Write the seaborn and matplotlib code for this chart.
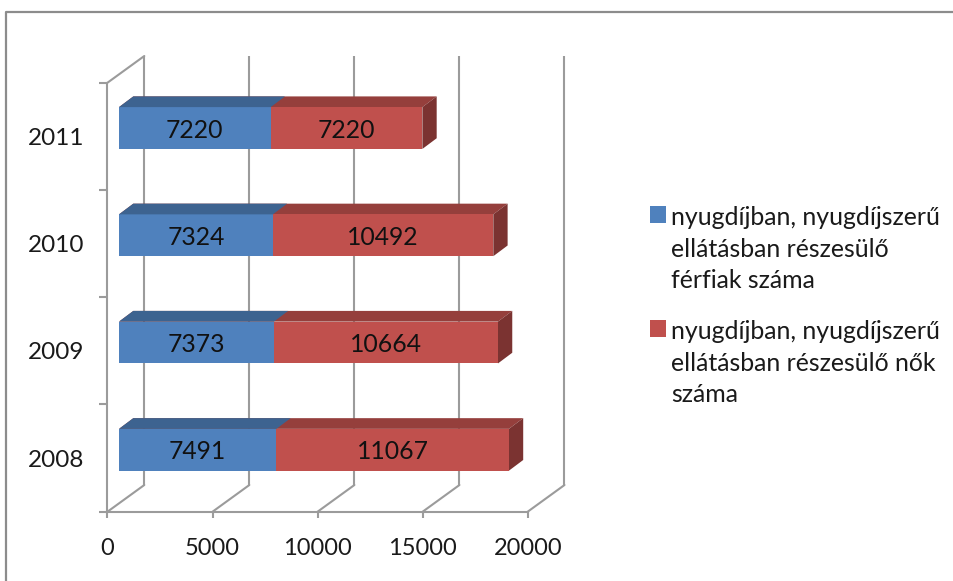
import matplotlib
matplotlib.use("Agg")
import matplotlib.pyplot as plt
import pandas as pd
import seaborn as sns
from matplotlib.lines import Line2D
from matplotlib.patches import Patch, Polygon
from matplotlib.transforms import Affine2D

years = ["2011", "2010", "2009", "2008"]
men = [7220, 7324, 7373, 7491]
women = [7220, 10492, 10664, 11067]
x_ticks = [0, 5000, 10000, 15000, 20000]
label_men = "nyugdíjban, nyugdíjszerű\nellátásban részesülő\nférfiak száma"
label_women = "nyugdíjban, nyugdíjszerű\nellátásban részesülő nők\nszáma"

BLUE, BLUE_TOP = "#4F81BD", "#3D6390"
RED, RED_TOP, RED_SIDE = "#C0504D", "#953F3C", "#7B3331"
GRID = "#9B9B9B"
TEXT = "#1a1a1a"

W, H = 954, 581
# fake 3d: wall depth and bar depth, in pixels
WALL_DX, WALL_DY = 36.8, 26.7
BAR_X0, BAR_Y0 = 11.5, 8.3
BAR_DX, BAR_DY = 14.3, 10.7

sns.set_theme(style="white")
plt.rcParams["font.family"] = ["Lato", "DejaVu Sans"]

df = pd.DataFrame({"year": years, "men": men, "women": women})
df["total"] = df["men"] + df["women"]

fig = plt.figure(figsize=(W / 100, H / 100), dpi=100, facecolor="white")
# axes box = front plane of the chart
left, right, top, bottom = 107.5, 527.7, 82.7, 511.7
ax = fig.add_axes([left / W, 1 - bottom / H, (right - left) / W, (bottom - top) / H])

sns.barplot(data=df, y="year", x="total", color=RED, saturation=1, width=0.39, ax=ax,
            zorder=4, linewidth=0, edgecolor="none")
n_before = len(ax.patches)
sns.barplot(data=df, y="year", x="men", color=BLUE, saturation=1, width=0.39, ax=ax,
            zorder=5, linewidth=0, edgecolor="none")

ax.set_xlim(0, 20000)
ax.set_ylim(3.5, -0.5)
ax.set_xlabel("")
ax.set_ylabel("")


def shift(dx, dy):
    return ax.transData + Affine2D().translate(dx, dy)


def add_face(points, color, z):
    ax.add_patch(Polygon(points, closed=True, facecolor=color, edgecolor="none",
                         transform=Affine2D(), zorder=z, clip_on=False))


# depth faces worked out from the bars themselves
for i, bar in enumerate(list(ax.patches[:n_before * 2])):
    x0, y0 = bar.get_x(), bar.get_y()
    w, h = bar.get_width(), bar.get_height()
    bar.set_transform(shift(BAR_X0, BAR_Y0))
    bar.set_clip_on(False)
    (xa, ya), (xb, yb) = ax.transData.transform([(x0, y0), (x0 + w, y0 + h)])
    xa, xb = xa + BAR_X0, xb + BAR_X0
    ya, yb = ya + BAR_Y0, yb + BAR_Y0
    is_men = i >= n_before
    top_y, low_y = max(ya, yb), min(ya, yb)
    add_face([(xa, top_y), (xa + BAR_DX, top_y + BAR_DY), (xb + BAR_DX, top_y + BAR_DY), (xb, top_y)],
             BLUE_TOP if is_men else RED_TOP, 6 if is_men else 3)
    if not is_men:
        add_face([(xb, top_y), (xb + BAR_DX, top_y + BAR_DY), (xb + BAR_DX, low_y + BAR_DY), (xb, low_y)],
                 RED_SIDE, 3)

# value labels, centred on the front face of each segment
tr = shift(BAR_X0, BAR_Y0 - 2)
for i, year in enumerate(years):
    ax.text(men[i] / 2, i, str(men[i]), transform=tr, ha="center", va="center",
            fontsize=17.8, color="#111111", zorder=8)
    ax.text(men[i] + women[i] / 2, i, str(women[i]), transform=tr, ha="center", va="center",
            fontsize=17.8, color="#111111", zorder=8)

# back wall and floor lines
ax.vlines(x_ticks, -0.5, 3.5, transform=shift(WALL_DX, WALL_DY), color=GRID, lw=1.5,
          clip_on=False, zorder=1)
line_kw = dict(color=GRID, lw=1.5, clip_on=False, zorder=1)
for t in x_ticks:
    px, py = ax.transData.transform((t, 3.5))
    ax.add_line(Line2D([px, px + WALL_DX], [py, py + WALL_DY], transform=Affine2D(), **line_kw))
px, py = ax.transData.transform((0, -0.5))
ax.add_line(Line2D([px, px + WALL_DX], [py, py + WALL_DY], transform=Affine2D(), **line_kw))

# axes
for name, sp in ax.spines.items():
    sp.set_visible(name in ("left", "bottom"))
    sp.set_color(GRID)
    sp.set_linewidth(1.5)
ax.set_xticks(x_ticks)
ax.set_yticks([0, 1, 2, 3], labels=years)
ax.set_yticks([-0.5, 0.5, 1.5, 2.5, 3.5], minor=True)
ax.tick_params(axis="x", which="major", length=4.5, width=1.5, color=GRID, pad=14.5,
               labelsize=17, labelcolor=TEXT, bottom=True)
ax.tick_params(axis="y", which="major", length=0, pad=17, labelsize=17.5, labelcolor=TEXT)
ax.tick_params(axis="y", which="minor", length=6, width=1.5, color=GRID, left=True)

# legend
handles = [Patch(facecolor=BLUE, edgecolor="none", label=label_men),
           Patch(facecolor=RED, edgecolor="none", label=label_women)]
leg = fig.legend(handles=handles, loc="upper left", bbox_to_anchor=(650 / W, 1 - 206 / H),
                 frameon=False, fontsize=17.9, handlelength=0.64, handleheight=0.64,
                 handletextpad=0.2, labelspacing=1.12, borderpad=0, borderaxespad=0)
for txt in leg.get_texts():
    txt.set_linespacing(1.455)
    txt.set_color(TEXT)
for h in leg.legend_handles:
    h.set_y(h.get_y() + 25.6)

# frame of the picture (top and left edge only are in view)
fig.add_artist(Line2D([6 / W, 6 / W, 1], [0, 1 - 12 / H, 1 - 12 / H], transform=fig.transFigure,
                      color="#8C8C8C", lw=1.6))

fig.savefig("out.png", dpi=100)
